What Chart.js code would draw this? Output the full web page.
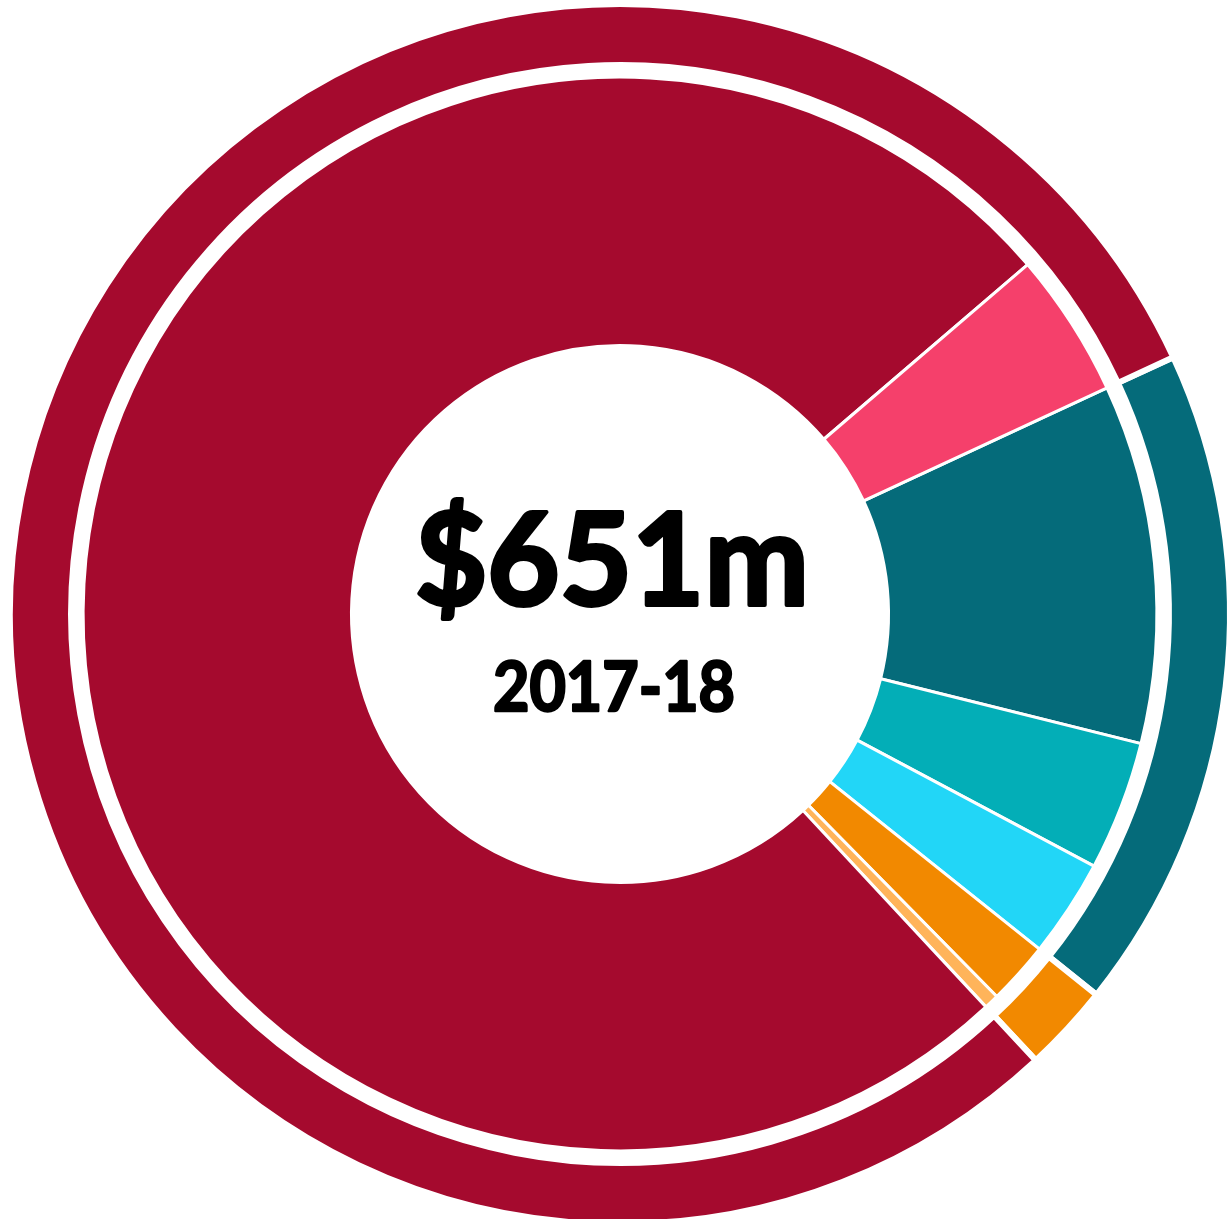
<!DOCTYPE html>
<html>
<head>
<meta charset="utf-8">
<title>$651m 2017-18</title>
<script src="https://cdn.jsdelivr.net/npm/chart.js@4/dist/chart.umd.min.js"></script>
<style>
    html, body { margin: 0; padding: 0; background: #fff; overflow: hidden; }
    #chart { position: absolute; left: 0; top: 0; }
</style>
</head>
<body>
<canvas id="chart" width="1240" height="1228"></canvas>
<script>
// Outer ring: groups ($m)
const groupLabels = ['Group A', 'Group B', 'Group C'];
const groupValues = [114.9, 15.2, 521.0];
const groupColors = ['#056b7a', '#f28900', '#a50a2e'];

// Inner ring: items ($m), same clockwise order
const itemLabels = ['Item 1', 'Item 2', 'Item 3', 'Item 4', 'Item 5', 'Item 6', 'Item 7'];
const itemValues = [70.3, 25.4, 19.2, 12.3, 2.9, 492.6, 28.4];
const itemColors = ['#056b7a', '#03aeb7', '#22d6f7', '#f28900', '#ffb45a', '#a50a2e', '#f5406b'];

const totalLabel = '$651m';
const yearLabel = '2017-18';

document.addEventListener('DOMContentLoaded', function() {
    const ctx = document.getElementById('chart').getContext('2d');

    // Writes the total and year in the hole (stroked a little to look heavier)
    const centerText = {
        id: 'centerText',
        afterDraw(chart) {
            const c = chart.ctx;
            c.save();
            c.fillStyle = '#000';
            c.strokeStyle = '#000';
            c.lineJoin = 'round';
            c.textAlign = 'center';
            c.textBaseline = 'alphabetic';
            c.font = 'bold 128px Lato, "Open Sans", sans-serif';
            c.lineWidth = 4;
            c.fillText(totalLabel, 612, 605, 394);
            c.strokeText(totalLabel, 612, 605, 394);
            c.font = 'bold 68px Lato, "Open Sans", sans-serif';
            c.lineWidth = 2.5;
            c.fillText(yearLabel, 614, 711, 242);
            c.strokeText(yearLabel, 614, 711, 242);
            c.restore();
        }
    };

    new Chart(ctx, {
        type: 'doughnut',
        data: {
            datasets: [
                {
                    label: 'Groups',
                    labels: groupLabels,
                    data: groupValues,
                    backgroundColor: groupColors,
                    borderColor: '#fff',
                    borderWidth: 6,
                    weight: 61
                },
                {
                    // blank gap between the two rings
                    label: 'gap',
                    data: [1],
                    backgroundColor: 'rgba(0,0,0,0)',
                    borderWidth: 0,
                    weight: 12
                },
                {
                    label: 'Items',
                    labels: itemLabels,
                    data: itemValues,
                    backgroundColor: itemColors,
                    borderColor: '#fff',
                    borderWidth: 3,
                    weight: 268
                }
            ]
        },
        options: {
            responsive: false,
            animation: false,
            rotation: 65.1,
            radius: 610,
            cutout: '44.02%',
            plugins: {
                legend: { display: false },
                tooltip: { enabled: false }
            }
        },
        plugins: [centerText]
    });
});
</script>
</body>
</html>
